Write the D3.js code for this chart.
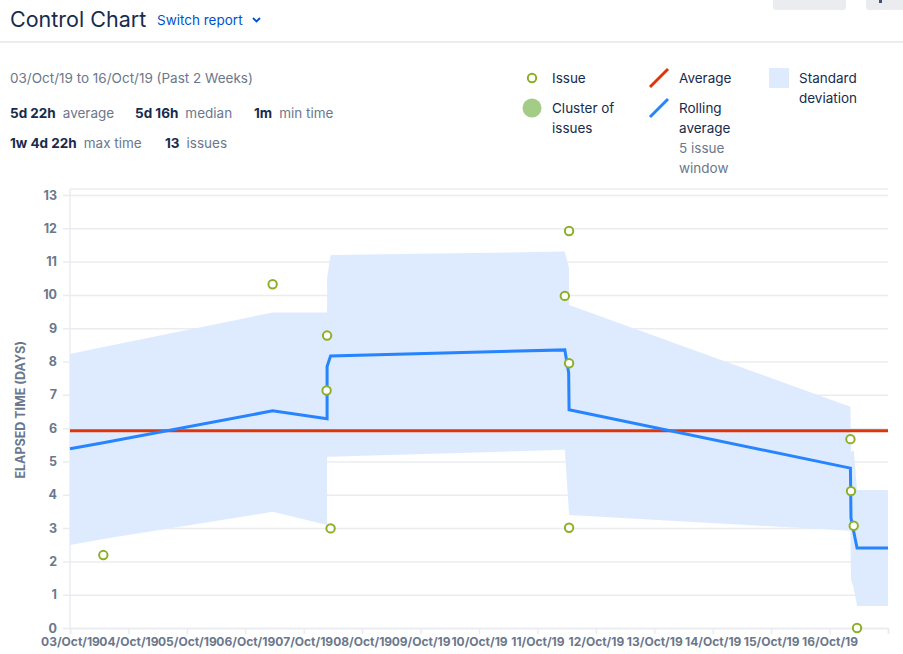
<!DOCTYPE html>
<html>
<head>
<meta charset="utf-8">
<script src="https://cdn.jsdelivr.net/npm/d3@7"></script>
<style>
  body { margin: 0; background: #fff; font-family: Inter, Roboto, sans-serif; }
  svg text { font-family: Inter, Roboto, sans-serif; }
</style>
</head>
<body>
<script>
const w = 903;
const h = 654;

// issues: completion time and elapsed time in days
const issueTimes = ["2019-10-03T13:41", "2019-10-06T11:14", "2019-10-07T09:36", "2019-10-07T09:24",
  "2019-10-07T11:02", "2019-10-11T13:00", "2019-10-11T11:15", "2019-10-11T13:00", "2019-10-11T13:00",
  "2019-10-16T08:34", "2019-10-16T08:48", "2019-10-16T09:55", "2019-10-16T11:17"];
const issueDays = [2.19, 10.32, 8.78, 7.13, 2.99, 11.92, 9.97, 7.95, 3.01, 5.67, 4.11, 3.07, 0.0];

const averageDays = 5.92;

// rolling average (5 issue window)
const rollTimes = ["2019-10-03T00:00", "2019-10-03T13:41", "2019-10-06T11:14", "2019-10-07T09:36",
  "2019-10-07T09:36", "2019-10-07T11:02", "2019-10-11T11:15", "2019-10-11T12:50", "2019-10-11T13:00",
  "2019-10-16T08:34", "2019-10-16T08:48", "2019-10-16T11:17", "2019-10-17T00:00"];
const rollDays = [5.38, 5.56, 6.52, 6.28, 7.85, 8.17, 8.35, 7.66, 6.55, 4.80, 3.30, 2.40, 2.40];

// standard deviation band
const bandTimes = ["2019-10-03T00:00", "2019-10-03T13:41", "2019-10-06T11:14", "2019-10-07T09:36",
  "2019-10-07T09:36", "2019-10-07T11:02", "2019-10-11T11:15", "2019-10-11T13:00", "2019-10-11T13:00",
  "2019-10-16T08:34", "2019-10-16T08:48", "2019-10-16T09:55", "2019-10-16T11:17", "2019-10-17T00:00"];
const bandUpper = [8.23, 8.44, 9.47, 9.47, 10.5, 11.2, 11.3, 10.8, 9.7, 6.64, 5.28, 5.35, 4.14, 4.14];
const bandLower = [2.49, 2.67, 3.49, 3.09, 5.14, 5.14, 5.35, 3.39, 3.39, 2.92, 1.44, 1.2, 0.66, 0.66];

const yTicks = [0, 1, 2, 3, 4, 5, 6, 7, 8, 9, 10, 11, 12, 13];
const xStart = "2019-10-03T00:00";
const xEnd = "2019-10-17T00:00";

const parse = d3.timeParse("%Y-%m-%dT%H:%M");

const svg = d3.select("body").append("svg").attr("width", w).attr("height", h);

// header
svg.append("text").attr("x", 10).attr("y", 27).style("font-size", "21.5px").attr("fill", "#172B4D").text("Control Chart");
svg.append("text").attr("x", 157).attr("y", 25).style("font-size", "13.5px").attr("fill", "#0052CC").text("Switch report");
svg.append("path").attr("d", "M253,18 l3.5,3.5 l3.5,-3.5").attr("fill", "none").attr("stroke", "#0052CC").attr("stroke-width", 1.8);
svg.append("rect").attr("x", 773).attr("y", -6).attr("width", 73).attr("height", 16).attr("rx", 3).attr("fill", "#EBECF0");
svg.append("rect").attr("x", 866).attr("y", -6).attr("width", 45).attr("height", 16).attr("rx", 3).attr("fill", "#EBECF0");
svg.append("rect").attr("x", 879).attr("y", 0).attr("width", 3).attr("height", 3).attr("fill", "#42526E");
svg.append("rect").attr("x", 0).attr("y", 41).attr("width", w).attr("height", 2).attr("fill", "#EBECF0");

// summary
svg.append("text").attr("x", 10).attr("y", 83).style("font-size", "13.5px").attr("fill", "#6B778C")
  .text("03/Oct/19 to 16/Oct/19 (Past 2 Weeks)");

const stats = [
  { x: 10, y: 118, v: "5d 22h", l: "average" },
  { x: 135, y: 118, v: "5d 16h", l: "median" },
  { x: 254, y: 118, v: "1m", l: "min time" },
  { x: 10, y: 148, v: "1w 4d 22h", l: "max time" },
  { x: 165, y: 148, v: "13", l: "issues" }
];
stats.forEach(s => {
  const t = svg.append("text").attr("x", s.x).attr("y", s.y).style("font-size", "13.5px");
  t.append("tspan").attr("fill", "#172B4D").style("font-weight", "bold").text(s.v);
  t.append("tspan").attr("fill", "#6B778C").attr("dx", 7).text(s.l);
});

// legend
const lg = svg.append("g").style("font-size", "13.5px").attr("fill", "#172B4D");
lg.append("circle").attr("cx", 532).attr("cy", 78).attr("r", 4.2).attr("fill", "#fff").attr("stroke", "#8DAF26").attr("stroke-width", 2);
lg.append("text").attr("x", 552).attr("y", 83).text("Issue");
lg.append("circle").attr("cx", 532).attr("cy", 108).attr("r", 9.5).attr("fill", "#A3CC87");
lg.append("text").attr("x", 552).attr("y", 113).text("Cluster of");
lg.append("text").attr("x", 552).attr("y", 133).text("issues");
lg.append("line").attr("x1", 650).attr("y1", 87).attr("x2", 668).attr("y2", 69).attr("stroke", "#DE350B").attr("stroke-width", 3);
lg.append("text").attr("x", 679).attr("y", 83).text("Average");
lg.append("line").attr("x1", 650).attr("y1", 117).attr("x2", 668).attr("y2", 99).attr("stroke", "#2684FF").attr("stroke-width", 3);
lg.append("text").attr("x", 679).attr("y", 113).text("Rolling");
lg.append("text").attr("x", 679).attr("y", 133).text("average");
lg.append("text").attr("x", 679).attr("y", 153).attr("fill", "#6B778C").text("5 issue");
lg.append("text").attr("x", 679).attr("y", 173).attr("fill", "#6B778C").text("window");
lg.append("rect").attr("x", 769).attr("y", 68).attr("width", 20).attr("height", 20).attr("fill", "#DEEBFF");
lg.append("text").attr("x", 799).attr("y", 83).text("Standard");
lg.append("text").attr("x", 799).attr("y", 103).text("deviation");

// scales
const xScale = d3.scaleTime().domain([parse(xStart), parse(xEnd)]).range([70, 888]);
const yScale = d3.scaleLinear().domain([0, 13]).range([628, 195]);

// grid
svg.append("line").attr("x1", 70).attr("x2", 888).attr("y1", yScale(13.18)).attr("y2", yScale(13.18))
  .attr("stroke", "#EBECF0").attr("stroke-width", 1.5);
const yAxis = d3.axisLeft(yScale).tickValues(yTicks).tickSize(818 + 7).tickPadding(6);
const gy = svg.append("g").attr("transform", "translate(888,0)").call(yAxis);
gy.select(".domain").remove();
gy.selectAll(".tick line").attr("stroke", "#EBECF0").attr("stroke-width", 1.5);
gy.selectAll(".tick text").attr("fill", "#6B778C").style("font-size", "12.5px").style("font-weight", "bold");

svg.append("line").attr("x1", 70).attr("x2", 70).attr("y1", yScale(13.18)).attr("y2", 628)
  .attr("stroke", "#EBECF0").attr("stroke-width", 1.5);

svg.append("text").attr("transform", "translate(25," + yScale(6.55) + ") rotate(-90)")
  .attr("text-anchor", "middle").style("font-size", "12.5px").style("font-weight", "bold")
  .attr("fill", "#6B778C").text("ELAPSED TIME (DAYS)");

// standard deviation band
const band = bandTimes.map((t, i) => ({ t: parse(t), hi: bandUpper[i], lo: bandLower[i] }));
svg.append("path").datum(band)
  .attr("fill", "#DEEBFF")
  .attr("d", d3.area().x(d => xScale(d.t)).y0(d => yScale(d.lo)).y1(d => yScale(d.hi)));

// x axis
const xAxis = d3.axisBottom(xScale).ticks(d3.timeDay.every(1)).tickSize(6).tickPadding(3)
  .tickFormat(d => d < parse(xEnd) ? d3.timeFormat("%d/%b/%y")(d) : "");
const gx = svg.append("g").attr("transform", "translate(0,628)").call(xAxis);
gx.select(".domain").attr("stroke", "#EBECF0").attr("stroke-width", 1.5);
gx.selectAll(".tick line").attr("stroke", "#EBECF0").attr("stroke-width", 1.5);
gx.selectAll(".tick text").attr("fill", "#6B778C").style("font-size", "12px").style("font-weight", "bold");

// average line
svg.append("line").attr("x1", 70).attr("x2", 888).attr("y1", yScale(averageDays)).attr("y2", yScale(averageDays))
  .attr("stroke", "#DE350B").attr("stroke-width", 3);

// rolling average
const roll = rollTimes.map((t, i) => ({ t: parse(t), v: rollDays[i] }));
svg.append("path").datum(roll)
  .attr("fill", "none").attr("stroke", "#2684FF").attr("stroke-width", 3)
  .attr("d", d3.line().x(d => xScale(d.t)).y(d => yScale(d.v)));

// issues
const issues = issueTimes.map((t, i) => ({ t: parse(t), v: issueDays[i] }));
svg.selectAll("circle.issue").data(issues).enter().append("circle")
  .attr("class", "issue")
  .attr("cx", d => xScale(d.t))
  .attr("cy", d => yScale(d.v))
  .attr("r", 4.2)
  .attr("fill", "#fff")
  .attr("stroke", "#8DAF26")
  .attr("stroke-width", 2);
</script>
</body>
</html>
